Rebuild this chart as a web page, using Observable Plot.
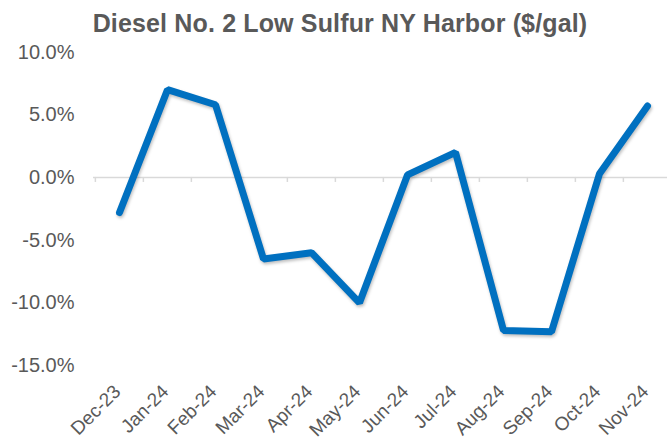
<!DOCTYPE html>
<html><head><meta charset="utf-8">
<script src="https://cdn.jsdelivr.net/npm/d3@7"></script>
<script src="https://cdn.jsdelivr.net/npm/@observablehq/plot@0.6"></script>
<style>
body{margin:0;background:#fff;font-family:"Liberation Sans",Arial,sans-serif;}
#title{height:40px;box-sizing:border-box;padding-top:11px;padding-left:13px;text-align:center;font-weight:bold;font-size:25px;line-height:25px;letter-spacing:0.15px;color:#595959;white-space:nowrap;overflow:visible;}
</style></head><body>
<div id="title">Diesel No. 2 Low Sulfur NY Harbor ($/gal)</div>
<div id="chart"></div>
<script>
const months = ["Dec-23","Jan-24","Feb-24","Mar-24","Apr-24","May-24","Jun-24","Jul-24","Aug-24","Sep-24","Oct-24","Nov-24"];
const changes = [-2.8, 7.0, 5.8, -6.5, -6.0, -10.0, 0.2, 2.0, -12.2, -12.3, 0.3, 5.7];
const yTicks = [-15, -10, -5, 0, 5, 10];

const data = months.map((m, i) => ({month: m, value: changes[i]}));
const W = 667, H = 401;
const xRange = [93.4, 672.4];
const yRange = [325, 11.6];
const step = (xRange[1] - xRange[0]) / months.length;
const pxPerUnit = (yRange[0] - yRange[1]) / 25;

const chart = Plot.plot({
  width: W, height: H,
  marginLeft: 93, marginRight: 0, marginTop: 12, marginBottom: 76,
  style: {fontFamily: '"Liberation Sans", Arial, sans-serif', color: "#595959", background: "#fff", overflow: "visible"},
  x: {type: "point", domain: months, range: xRange, padding: 0.5},
  y: {domain: [-15, 10], range: yRange},
  marks: [
    Plot.ruleY([0], {stroke: "#d9d9d9", strokeWidth: 1.5}),
    Plot.ruleX(months, {x: d => d, y1: 0, y2: -5 / pxPerUnit, dx: -step / 2, stroke: "#d9d9d9", strokeWidth: 1.5}),
    Plot.axisY(yTicks, {tickSize: 0, tickPadding: 19, tickFormat: d => d.toFixed(1) + "%", fontSize: 20, fill: "#595959", label: null}),
    Plot.axisX(months, {tickSize: 0, tickRotate: -45, tickPadding: 20, dx: -2, dy: 3, fontSize: 19, fill: "#595959", label: null}),
    Plot.line(data, {x: "month", y: "value", stroke: "#0070C0", strokeWidth: 7, strokeLinejoin: "miter", strokeLinecap: "round"})
  ]
});
chart.querySelectorAll('g[aria-label="line"] path').forEach(p => p.style.filter = "drop-shadow(1px 2px 1.5px rgba(0,0,0,0.25))");
document.getElementById("chart").appendChild(chart);
</script>
</body></html>
